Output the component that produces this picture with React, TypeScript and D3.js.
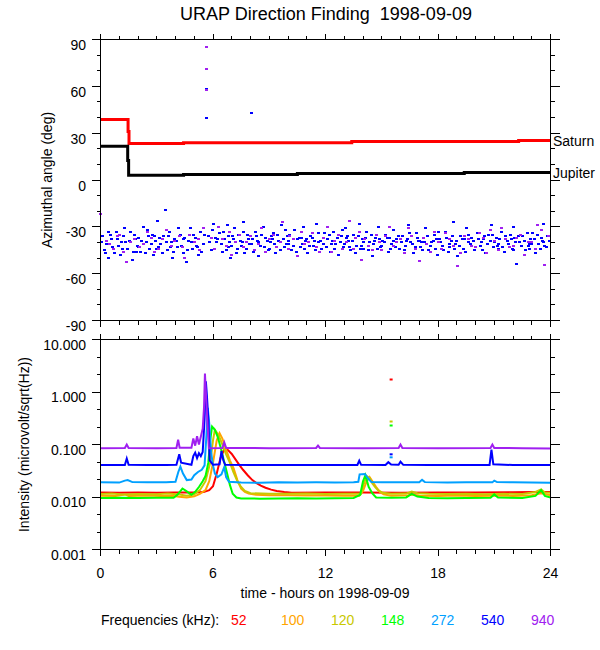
import React, { useRef, useEffect } from 'react'
import * as d3 from 'd3'

type Pt = [number, number]

const hourTicks = [0, 6, 12, 18, 24]
const angleTicks = [-90, -60, -30, 0, 30, 60, 90]
const intensityTicks = [0.001, 0.01, 0.1, 1, 10]
const intensityLabels = ['0.001', '0.010', '0.100', '1.000', '10.000']
const frequencies = ['52', '100', '120', '148', '272', '540', '940']
const freqColors = ['#ff0000', '#ffa500', '#c8c800', '#00ff00', '#00a0ff', '#0000ff', '#a020f0']

// planet directions (step changes)
const saturn: Pt[] = [[0, 38.7], [1.47, 31], [1.52, 23.4], [4.43, 23.9], [13.4, 24.6], [22.3, 25.3], [24, 25.3]]
const jupiter: Pt[] = [[0, 21.6], [1.45, 12.5], [1.5, 3.1], [4.43, 3.6], [10.5, 4.2], [19.4, 4.8], [24, 4.8]]

// direction finding points, 540 kHz
const dfBlue: Pt[] = [
  [0.1, -36], [0.2, -45], [0.3, -41], [0.45, -50], [0.6, -38], [0.75, -47], [0.85, -33], [0.95, -42],
  [1.05, -48], [1.2, -36], [1.3, -31], [1.45, -44], [1.55, -39], [1.7, -51], [1.8, -35], [1.95, -42],
  [2.05, -37], [2.15, -46], [2.3, -30], [2.45, -40], [2.6, -44], [2.75, -35], [2.85, -48], [2.95, -39],
  [3.05, -26], [3.2, -41], [3.35, -36], [3.46, -19.5], [3.55, -45], [3.7, -33], [3.85, -50], [3.95, -38],
  [4.1, -43], [4.25, -35], [4.4, -47], [4.6, -52.5], [4.7, -39], [4.8, -31], [4.9, -44],
  [5.05, -37], [5.2, -48], [5.35, -33], [5.5, -41], [5.65, 39.5], [5.65, 58.5], [5.75, -36], [5.9, -45],
  [6.05, -28], [6.2, -40], [6.35, -34], [6.5, -46], [6.6, -38], [6.75, -29], [6.85, -43], [6.95, -50],
  [7.05, -36], [7.15, -31], [7.3, -44], [7.45, -39], [7.6, -27], [7.7, -47], [7.85, -35], [7.95, -41],
  [8.03, 43], [8.1, -38], [8.25, -33], [8.4, -49], [8.55, -42], [8.7, -30], [8.8, -37], [8.95, -45],
  [9.05, -40], [9.2, -34], [9.35, -47], [9.5, -39], [9.65, -29], [9.8, -43], [9.95, -36],
  [10.05, -41], [10.2, -45], [10.35, -32], [10.5, -38], [10.65, -43], [10.8, -30], [10.95, -39],
  [11.05, -47], [11.2, -36], [11.35, -42], [11.5, -28], [11.65, -40], [11.8, -44], [11.95, -34],
  [12.1, -38], [12.25, -46], [12.4, -33], [12.55, -41], [12.7, -48], [12.85, -36], [12.95, -43],
  [13.05, -31], [13.2, -39], [13.35, -45], [13.5, -35], [13.65, -42], [13.8, -28], [13.95, -38],
  [14.05, -44], [14.2, -33], [14.35, -40], [14.5, -49], [14.65, -37], [14.8, -30], [14.95, -43],
  [15.05, -39], [15.2, -35], [15.35, -46], [15.5, -41], [15.65, -32], [15.8, -38], [15.95, -44],
  [16.1, -36], [16.25, -42], [16.4, -29], [16.55, -40], [16.7, -47], [16.85, -34], [16.95, -39],
  [17.05, -43], [17.2, -37], [17.35, -31], [17.5, -45], [17.65, -40], [17.8, -35], [17.95, -48],
  [18.1, -38], [18.25, -42], [18.4, -33], [18.55, -46], [18.7, -39], [18.85, -27], [18.95, -41],
  [19.05, -49], [19.2, -36], [19.35, -44], [19.5, -31], [19.65, -40], [19.8, -37], [19.95, -45],
  [20.1, -34], [20.25, -42], [20.4, -38], [20.55, -47], [20.7, -35], [20.85, -29], [20.95, -43],
  [21.1, -37], [21.25, -41], [21.4, -33], [21.55, -46], [21.7, -39], [21.85, -35], [21.95, -44],
  [22.05, -30], [22.2, -53.5], [22.35, -40], [22.5, -36], [22.65, -45], [22.8, -42], [22.95, -38],
  [23.05, -34], [23.2, -47], [23.35, -41], [23.5, -37], [23.65, -28], [23.8, -43], [23.95, -39],
  [0.4, -33], [1.1, -40], [1.9, -46], [2.55, -36], [3.1, -43], [3.8, -40], [4.45, -38], [5.1, -42],
  [6.15, -37], [6.9, -40], [7.5, -42], [8.35, -39], [9.1, -36], [9.9, -41], [10.7, -37], [11.4, -39],
  [12.3, -41], [13.1, -37], [13.9, -42], [14.6, -39], [15.4, -37], [16.3, -39], [17.1, -40],
  [17.9, -38], [18.6, -43], [19.4, -38], [20.3, -40], [21.2, -44], [22.1, -37], [22.9, -41], [23.6, -40],
  [0.05, -40], [0.25, -47], [0.55, -35], [0.65, -43], [0.9, -38],
  [1.15, -44], [1.35, -40], [1.6, -33], [1.75, -46], [1.85, -38],
  [2.0, -43], [2.2, -39], [2.4, -47], [2.5, -32], [2.7, -41], [2.9, -36],
  [3.0, -44], [3.15, -37], [3.3, -47], [3.5, -40], [3.65, -36], [3.75, -43], [3.9, -46],
  [4.05, -39], [4.15, -31], [4.3, -42], [4.5, -37], [4.65, -45], [4.85, -40], [4.95, -35],
  [5.15, -43], [5.25, -38], [5.4, -46], [5.55, -35], [5.8, -40], [5.95, -32],
  [6.1, -44], [6.25, -38], [6.45, -41], [6.55, -33], [6.7, -45], [6.8, -36],
  [7.0, -42], [7.1, -38], [7.25, -47], [7.35, -35], [7.55, -40], [7.65, -33], [7.8, -44], [7.9, -38],
  [8.05, -41], [8.15, -46], [8.3, -36], [8.45, -40], [8.6, -35], [8.75, -43], [8.9, -39],
  [9.0, -44], [9.15, -38], [9.3, -41], [9.45, -35], [9.6, -45], [9.75, -38], [9.85, -32],
  [10.0, -39], [10.1, -35], [10.3, -42], [10.45, -46], [10.6, -37], [10.75, -41], [10.9, -44],
  [11.0, -38], [11.15, -42], [11.3, -37], [11.45, -45], [11.6, -34], [11.75, -39], [11.9, -41],
  [12.05, -43], [12.2, -35], [12.35, -39], [12.5, -44], [12.65, -37], [12.8, -40], [12.9, -32],
  [13.0, -41], [13.15, -36], [13.3, -43], [13.45, -39], [13.6, -47], [13.75, -36], [13.85, -44],
  [14.0, -40], [14.15, -37], [14.3, -45], [14.45, -35], [14.55, -41], [14.75, -44], [14.9, -38],
  [15.0, -42], [15.15, -40], [15.3, -37], [15.45, -44], [15.6, -39], [15.75, -43], [15.9, -36],
  [16.05, -40], [16.2, -45], [16.35, -38], [16.5, -34], [16.65, -41], [16.8, -43], [16.9, -37],
  [17.0, -39], [17.15, -45], [17.3, -40], [17.45, -36], [17.6, -42], [17.75, -39], [17.85, -44],
  [18.0, -33], [18.15, -40], [18.3, -45], [18.45, -37], [18.6, -41], [18.75, -36], [18.9, -44],
  [19.0, -39], [19.15, -42], [19.3, -38], [19.45, -46], [19.6, -35], [19.75, -41], [19.9, -39],
  [20.0, -43], [20.15, -38], [20.35, -45], [20.5, -36], [20.65, -41], [20.8, -39], [20.9, -35],
  [21.0, -40], [21.15, -42], [21.3, -38], [21.45, -43], [21.6, -36], [21.75, -41], [21.9, -38],
  [22.0, -45], [22.15, -40], [22.3, -36], [22.45, -42], [22.6, -39], [22.75, -34], [22.9, -44],
  [23.0, -41], [23.15, -38], [23.3, -35], [23.45, -44], [23.55, -39], [23.7, -42], [23.85, -36],
]

// direction finding points, 940 kHz
const dfPurple: Pt[] = [
  [0.02, -22], [0.3, -39], [0.7, -44], [1.0, -35], [1.4, -52.5], [1.6, -40], [2.1, -43], [2.5, -33],
  [2.9, -46], [3.3, -38], [3.8, -42], [4.2, -36], [4.5, -50], [5.0, -40], [5.3, -45], [5.65, 85.5],
  [5.65, 71], [5.65, 57.5], [5.9, -37], [6.3, -30], [6.7, -42], [7.0, -48], [7.4, -35], [7.8, -40],
  [8.2, -45], [8.6, -31], [9.0, -38], [9.4, -43], [9.7, -27], [10.1, -36], [10.5, -49], [10.9, -41],
  [11.3, -34], [11.7, -46], [12.1, -30], [12.5, -39], [12.9, -44], [13.3, -26], [13.6, -37], [13.9, -51],
  [14.3, -42], [14.7, -35], [15.0, -45], [15.4, -30], [15.8, -40], [16.2, -47], [16.6, -36], [17.0, -52],
  [17.4, -41], [17.8, -33], [18.2, -44], [18.6, -38], [19.03, -55], [19.4, -36], [19.8, -42], [20.2, -34],
  [20.6, -47], [21.0, -39], [21.4, -31], [21.8, -43], [22.2, -37], [22.6, -48], [23.0, -40], [23.3, -29],
  [23.7, -54.6], [23.9, -36],
  [0.5, -41], [0.9, -36], [1.2, -46], [1.8, -38], [2.3, -41], [2.7, -37], [3.1, -44], [3.5, -32],
  [3.95, -39], [4.35, -43], [4.75, -35], [5.2, -38], [5.5, -31], [6.1, -44], [6.5, -38], [6.9, -33],
  [7.2, -40], [7.6, -43], [8.0, -36], [8.4, -41], [8.8, -46], [9.2, -35], [9.6, -40], [10.0, -44],
  [10.3, -38], [10.7, -33], [11.1, -40], [11.5, -43], [11.9, -37], [12.3, -46], [12.7, -35], [13.1, -40],
  [13.5, -44], [13.8, -33], [14.1, -38], [14.5, -45], [14.9, -40], [15.2, -36], [15.6, -42], [16.0, -38],
  [16.4, -31], [16.8, -44], [17.2, -37], [17.6, -46], [18.0, -40], [18.4, -34], [18.8, -42], [19.2, -47],
  [19.6, -38], [20.0, -43], [20.4, -37], [20.8, -32], [21.2, -45], [21.6, -38], [22.0, -42], [22.4, -35],
  [22.8, -40], [23.2, -44], [23.5, -32],
]

// intensities by frequency
const int52: Pt[] = [
  [0, 0.0122], [1, 0.0121], [2, 0.0122], [3, 0.0121], [4, 0.0122], [5, 0.0122], [5.5, 0.0124], [5.8, 0.0135],
  [6.0, 0.016], [6.2, 0.028], [6.4, 0.055], [6.6, 0.082], [6.8, 0.078], [7.0, 0.066], [7.2, 0.052], [7.4, 0.041],
  [7.6, 0.033], [7.85, 0.026], [8.1, 0.021], [8.3, 0.0186], [8.55, 0.0165], [8.8, 0.015], [9.1, 0.0138],
  [9.4, 0.013], [9.8, 0.0124], [10.2, 0.0121], [12, 0.0122], [14, 0.0122], [16, 0.0121], [18, 0.0122],
  [20, 0.0122], [22, 0.0123], [23, 0.0124], [24, 0.0124],
]
const int100: Pt[] = [
  [0, 0.0106], [0.8, 0.0104], [1.3, 0.0112], [1.5, 0.0105], [2.5, 0.0107], [3.2, 0.0104], [3.8, 0.0106],
  [4.2, 0.0101], [4.6, 0.0098], [5.0, 0.0103], [5.3, 0.0115], [5.6, 0.0135], [5.8, 0.02], [6.0, 0.045],
  [6.2, 0.12], [6.35, 0.165], [6.5, 0.13], [6.7, 0.08], [6.9, 0.05], [7.1, 0.035], [7.3, 0.021], [7.5, 0.0145],
  [7.7, 0.0125], [7.9, 0.0116], [8.3, 0.011], [9, 0.0108], [10, 0.0108], [11, 0.0107], [12, 0.0107],
  [13, 0.0106], [13.8, 0.0106], [14.0, 0.013], [14.2, 0.02], [14.35, 0.024], [14.5, 0.02], [14.7, 0.0155],
  [14.9, 0.0125], [15.1, 0.0112], [15.5, 0.0106], [16.4, 0.0108], [16.7, 0.0112], [17, 0.0106], [18, 0.0105],
  [19, 0.0107], [20, 0.0105], [21, 0.0106], [22, 0.0105], [23, 0.0108], [23.5, 0.0118], [24, 0.0108],
]
const int120: Pt[] = [
  [0, 0.0114], [0.6, 0.0116], [1.2, 0.0112], [2, 0.0114], [3, 0.0113], [3.6, 0.0116], [4.2, 0.0112],
  [4.6, 0.0106], [5.0, 0.0112], [5.3, 0.0135], [5.6, 0.02], [5.85, 0.045], [6.0, 0.12], [6.1, 0.19],
  [6.3, 0.15], [6.5, 0.1], [6.7, 0.065], [6.9, 0.045], [7.1, 0.029], [7.3, 0.02], [7.5, 0.0155], [7.7, 0.013],
  [8.0, 0.0118], [9, 0.0115], [10, 0.0115], [11, 0.0116], [12, 0.0114], [13, 0.0115], [13.9, 0.0115],
  [14.05, 0.018], [14.2, 0.025], [14.35, 0.023], [14.5, 0.0181], [14.65, 0.0155], [14.8, 0.0135],
  [15.05, 0.012], [15.5, 0.0115], [16.3, 0.0116], [16.6, 0.0127], [16.9, 0.0118], [17.5, 0.0115],
  [18.5, 0.0114], [19.5, 0.0115], [20.5, 0.0113], [21.5, 0.0115], [22.5, 0.0114], [23.2, 0.0125],
  [23.5, 0.014], [23.7, 0.0122], [24, 0.012],
]
const int148: Pt[] = [
  [0, 0.0096], [1, 0.0097], [2, 0.0096], [3, 0.0097], [3.9, 0.0097], [4.1, 0.011], [4.37, 0.0145],
  [4.6, 0.0128], [4.85, 0.011], [5.05, 0.0125], [5.25, 0.0155], [5.45, 0.02], [5.6, 0.025], [5.75, 0.045],
  [5.85, 0.12], [5.95, 0.22], [6.1, 0.19], [6.25, 0.14], [6.4, 0.09], [6.55, 0.055], [6.67, 0.037],
  [6.8, 0.024], [6.9, 0.017], [7.05, 0.0115], [7.25, 0.0098], [7.5, 0.0094], [8.5, 0.0093], [9.5, 0.0094],
  [10.5, 0.0095], [11.5, 0.0094], [12.5, 0.0095], [13.5, 0.0096], [13.85, 0.011], [14.0, 0.02],
  [14.13, 0.026], [14.3, 0.0156], [14.5, 0.0117], [14.7, 0.0098], [15.5, 0.0097], [16.3, 0.0098],
  [16.6, 0.0115], [16.9, 0.0102], [17.5, 0.0096], [18.5, 0.0095], [19.5, 0.0096], [20.8, 0.0097],
  [21.0, 0.0112], [21.2, 0.0098], [22.5, 0.0096], [23.2, 0.0105], [23.5, 0.0135], [23.7, 0.0105], [24, 0.0098],
]
const int272: Pt[] = [
  [0, 0.019], [1.0, 0.0188], [1.3, 0.0205], [1.45, 0.021], [1.7, 0.0192], [2.5, 0.019], [3.5, 0.0191],
  [4.0, 0.0195], [4.15, 0.03], [4.26, 0.038], [4.4, 0.028], [4.6, 0.021], [4.85, 0.0215], [5.0, 0.026],
  [5.2, 0.03], [5.4, 0.033], [5.55, 0.04], [5.65, 0.15], [5.72, 0.5], [5.8, 0.25], [5.9, 0.07], [6.0, 0.04],
  [6.1, 0.028], [6.25, 0.024], [6.45, 0.027], [6.6, 0.037], [6.7, 0.024], [6.85, 0.0195], [7.5, 0.0188],
  [8.5, 0.0187], [9.5, 0.019], [10.5, 0.0189], [11.5, 0.019], [12.5, 0.0188], [13.5, 0.019], [13.75, 0.0195],
  [13.82, 0.027], [14.1, 0.0275], [14.3, 0.022], [14.45, 0.0192], [15, 0.019], [16, 0.0191], [17.0, 0.019],
  [17.15, 0.0212], [17.3, 0.0192], [18.5, 0.0189], [19.5, 0.019], [20.9, 0.019], [21.0, 0.0205],
  [21.15, 0.0192], [22, 0.019], [23, 0.0188], [24, 0.0187],
]
const int540: Pt[] = [
  [0, 0.0405], [1.3, 0.0405], [1.4, 0.054], [1.5, 0.041], [2.5, 0.0408], [3.5, 0.0407], [4.05, 0.041],
  [4.2, 0.065], [4.3, 0.045], [4.85, 0.041], [4.95, 0.06], [5.05, 0.07], [5.15, 0.055], [5.25, 0.068],
  [5.35, 0.06], [5.45, 0.072], [5.55, 0.3], [5.62, 1.6], [5.68, 0.8], [5.75, 0.3], [5.82, 0.05], [6.0, 0.041],
  [6.35, 0.042], [6.45, 0.075], [6.55, 0.05], [6.65, 0.041], [8, 0.0405], [10, 0.0406], [12, 0.0405],
  [13.7, 0.0407], [13.8, 0.049], [13.9, 0.041], [15.2, 0.0408], [15.35, 0.046], [15.5, 0.0415],
  [15.9, 0.0412], [16.0, 0.047], [16.15, 0.041], [17.5, 0.0407], [19, 0.0406], [20.75, 0.0408],
  [20.85, 0.08], [20.95, 0.042], [22, 0.0406], [23, 0.0407], [24, 0.0405],
]
const int940: Pt[] = [
  [0, 0.085], [1.3, 0.086], [1.4, 0.1], [1.5, 0.086], [3, 0.085], [4.05, 0.086], [4.14, 0.124], [4.22, 0.087],
  [4.85, 0.087], [4.95, 0.13], [5.05, 0.095], [5.15, 0.144], [5.25, 0.1], [5.35, 0.14], [5.45, 0.2],
  [5.52, 0.5], [5.57, 2.25], [5.62, 1.0], [5.67, 0.45], [5.72, 0.2], [5.78, 0.085], [6.5, 0.086], [6.6, 0.11],
  [6.7, 0.086], [9, 0.085], [11.5, 0.086], [11.6, 0.095], [11.7, 0.086], [14, 0.085], [15.9, 0.086],
  [16.0, 0.1], [16.1, 0.086], [18, 0.085], [20.8, 0.086], [20.9, 0.1], [21.0, 0.086], [22.5, 0.085], [24, 0.084],
]
const intensities = [int52, int100, int120, int148, int272, int540, int940]

// isolated samples at 15.5 h
const isoHours = [15.5, 15.5, 15.5, 15.5, 15.5]
const isoValues = [1.73, 0.274, 0.23, 0.065, 0.057]
const isoFreq = [0, 2, 3, 5, 4]

const FONT = '"Liberation Sans", Arial, Helvetica, sans-serif'

export default function App() {
  const svgRef = useRef<SVGSVGElement>(null)

  useEffect(() => {
    if (!svgRef.current) return
    const svg = d3.select(svgRef.current)
    svg.selectAll('*').remove()

    const x = d3.scaleLinear().domain([0, 24]).range([100.5, 550.5])
    const yA = d3.scaleLinear().domain([-90, 90]).range([320.5, 39.5])
    const yI = d3.scaleLog().domain([0.001, 10]).range([549.5, 339.5])

    const hourMinor = d3.range(0, 25).filter(h => h % 6 !== 0)
    const angleMinor = d3.range(-90, 91, 10).filter(a => a % 30 !== 0)
    const logMinor: number[] = []
    for (let d = -3; d < 1; d++) logMinor.push(Math.pow(10, d + 1 / 3), Math.pow(10, d + 2 / 3))

    function frame(
      g: d3.Selection<SVGGElement, unknown, null, undefined>,
      y: (v: number) => number,
      yMajor: number[],
      yMinor: number[],
    ) {
      const [y1, y0] = [y(yMajor[0]), y(yMajor[yMajor.length - 1])]
      const [x0, x1] = [x(0), x(24)]
      g.append('rect')
        .attr('x', x0).attr('y', y0)
        .attr('width', x1 - x0).attr('height', y1 - y0)
        .attr('fill', 'none').attr('stroke', '#000')
      const ticks = g.append('g').attr('stroke', '#000').attr('shape-rendering', 'crispEdges')
      const yt = [...yMajor.map(v => [v, 9]), ...yMinor.map(v => [v, 4])]
      yt.forEach(([v, len]) => {
        const yy = Math.round(y(v) - 0.5) + 0.5
        ticks.append('line').attr('x1', x0 - len).attr('x2', x0).attr('y1', yy).attr('y2', yy)
        ticks.append('line').attr('x1', x1).attr('x2', x1 + len).attr('y1', yy).attr('y2', yy)
      })
      const xt = [...hourTicks.map(v => [v, 6]), ...hourMinor.map(v => [v, 4])]
      xt.forEach(([v, len]) => {
        const xx = Math.round(x(v) - 0.5) + 0.5
        ticks.append('line').attr('x1', xx).attr('x2', xx).attr('y1', y0 - len).attr('y2', y0)
        ticks.append('line').attr('x1', xx).attr('x2', xx).attr('y1', y1).attr('y2', y1 + len)
      })
    }

    const text = (xx: number, yy: number, s: string, size = 14, anchor = 'start', fill = '#000') =>
      svg.append('text')
        .attr('x', xx).attr('y', yy)
        .attr('font-family', FONT).attr('font-size', size)
        .attr('text-anchor', anchor).attr('fill', fill)
        .style('white-space', 'pre')
        .text(s)

    // title
    text(326, 20, 'URAP Direction Finding  1998-09-09', 18, 'middle')

    // ---- top panel: azimuth
    const top = svg.append('g')

    const dots = top.append('g').attr('shape-rendering', 'crispEdges')
    dots.selectAll('rect.b').data(dfBlue).join('rect')
      .attr('x', d => x(d[0]) - 1.5).attr('y', d => yA(d[1]) - 1)
      .attr('width', 3).attr('height', 2).attr('fill', '#0000ff')
    dots.selectAll('rect.p').data(dfPurple).join('rect')
      .attr('x', d => x(d[0]) - 1.5).attr('y', d => yA(d[1]) - 1)
      .attr('width', 3).attr('height', 2).attr('fill', '#a020f0')

    const step = d3.line<Pt>().x(d => x(d[0])).y(d => yA(d[1])).curve(d3.curveStepAfter)
    top.append('path').datum(saturn).attr('d', step)
      .attr('fill', 'none').attr('stroke', '#ff0000').attr('stroke-width', 3)
    top.append('path').datum(jupiter).attr('d', step)
      .attr('fill', 'none').attr('stroke', '#000').attr('stroke-width', 3)

    frame(top, yA, angleTicks, angleMinor)
    angleTicks.forEach(a => text(86, yA(a) + 10.5, String(a), 14, 'end'))
    text(553, yA(saturn[saturn.length - 1][1]) + 5, 'Saturn')
    text(553, yA(jupiter[jupiter.length - 1][1]) + 5, 'Jupiter')
    svg.append('text')
      .attr('transform', `translate(52,${(yA(90) + yA(-90)) / 2}) rotate(-90)`)
      .attr('font-family', FONT).attr('font-size', 14).attr('text-anchor', 'middle')
      .text('Azimuthal angle (deg)')

    // ---- bottom panel: intensity
    const bot = svg.append('g')
    const line = d3.line<Pt>().x(d => x(d[0])).y(d => yI(d[1]))
    intensities.forEach((series, i) => {
      bot.append('path').datum(series).attr('d', line)
        .attr('fill', 'none').attr('stroke', freqColors[i]).attr('stroke-width', 2)
    })
    bot.selectAll('rect.iso').data(isoHours).join('rect')
      .attr('x', (h) => x(h) - 1.5).attr('y', (_, i) => yI(isoValues[i]) - 1)
      .attr('width', 3).attr('height', 2).attr('fill', (_, i) => freqColors[isoFreq[i]])

    frame(bot, yI, intensityTicks, logMinor)
    intensityTicks.forEach((v, i) => text(86, yI(v) + 10, intensityLabels[i], 14, 'end'))
    hourTicks.forEach(h => text(x(h), 578, String(h), 14, 'middle'))
    svg.append('text')
      .attr('transform', `translate(29,${(yI(10) + yI(0.001)) / 2}) rotate(-90)`)
      .attr('font-family', FONT).attr('font-size', 14).attr('text-anchor', 'middle')
      .text('Intensity (microvolt/sqrt(Hz))')
    text(325, 598, 'time - hours on 1998-09-09', 14, 'middle')

    // legend
    text(101, 625, 'Frequencies (kHz):')
    frequencies.forEach((f, i) => text(231 + i * 50, 625, f, 14, 'start', freqColors[i]))
  }, [])

  return (
    <>
      <style>{'body{margin:0;background:#fff}'}</style>
      <svg ref={svgRef} width={600} height={650} style={{ display: 'block', background: '#fff' }} />
    </>
  )
}
